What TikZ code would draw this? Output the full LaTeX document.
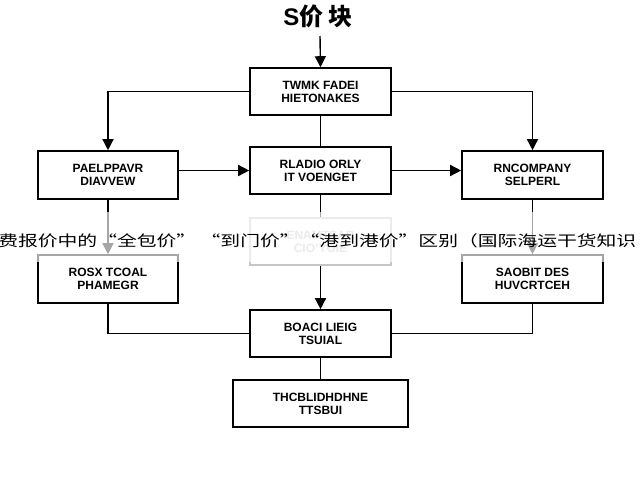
\documentclass[tikz,border=0pt]{standalone}
\usepackage{fontspec}
\setmainfont{Liberation Sans}
\newfontfamily\cjk{Noto Sans CJK SC}
\usetikzlibrary{arrows.meta}

\begin{document}
\begin{tikzpicture}[x=1pt,y=-1pt,
  box/.style={draw,line width=1.6pt,align=center,inner sep=0pt,
    font=\bfseries\fontsize{12}{13}\selectfont},
  link/.style={line width=1.4pt},
  flow/.style={link,-{Triangle[length=11pt,width=11pt]}}]
\useasboundingbox (0,0) rectangle (640,480);
% \draw[step=40,gray,very thin] (0,0) grid (640,480);
\node[font=\bfseries\fontsize{24}{26}\selectfont] (title) at (318,16) {S{\cjk 价 块}};
\node[box,minimum width=141pt,minimum height=47pt] (top) at (320.5,91.5) {TWMK FADEI\\HIETONAKES};
\node[box,minimum width=140pt,minimum height=48pt] (left) at (108,175) {PAELPPAVR\\DIAVVEW};
\node[box,minimum width=141pt,minimum height=47pt] (mid) at (320.5,170.5) {RLADIO ORLY\\IT VOENGET};
\node[box,minimum width=141pt,minimum height=48pt] (right) at (532.5,175) {RNCOMPANY\\SELPERL};
\node[box,minimum width=140pt,minimum height=48pt] (lowleft) at (108,279) {ROSX TCOAL\\PHAMEGR};
\node[box,draw=gray!45,text=gray!45,minimum width=141pt,minimum height=47pt] (grey) at (320.5,241.5) {ENAMTSAR\\CIO'YOIE};
\node[box,minimum width=141pt,minimum height=48pt] (lowright) at (532.5,279) {SAOBIT DES\\HUVCRTCEH};
\node[box,minimum width=141pt,minimum height=47pt] (join) at (320.5,333.5) {BOACI LIEIG\\TSUIAL};
\node[box,minimum width=175pt,minimum height=47pt] (end) at (320.5,403.5) {THCBLIDHDHNE\\TTSBUI};

\draw[flow] (320,36) -- (top.north);
\draw[flow] (top.west) -| (left.north);
\draw[flow] (top.east) -| (right.north);
\draw[link] (top) -- (mid);
\draw[flow] (left.east |- mid.west) -- (mid.west);
\draw[flow] (mid.east) -- (right.west |- mid.east);
\draw[flow] (left) -- (lowleft);
\draw[flow] (right) -- (lowright);
\draw[link] (mid) -- (grey);
\draw[flow] (grey) -- (join);
\draw[link] (lowleft.south) |- (join.west);
\draw[link] (lowright.south) |- (join.east);
\draw[link] (join) -- (end);

%% watermark band
\fill[white,opacity=0.65] (0,212) rectangle (640,262);
\node[anchor=west,font=\cjk\fontsize{15}{16}\selectfont,inner sep=0pt,xscale=1.32] (mark) at (-2,241)
  {费报价中的“全包价” “到门价”“港到港价”区别（国际海运干货知识};
\end{tikzpicture}
\end{document}
